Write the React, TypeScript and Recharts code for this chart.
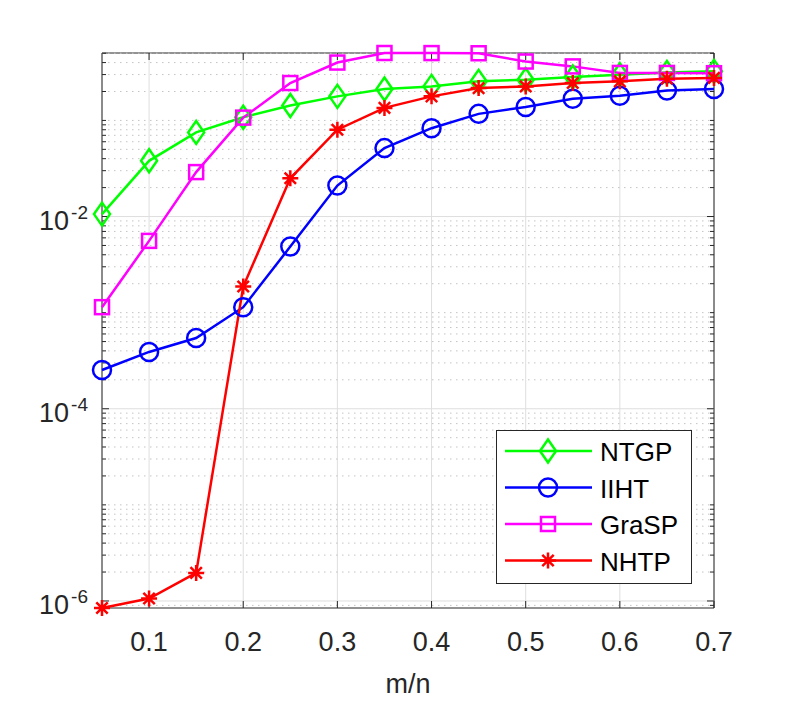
import React from "react";
import {
  LineChart,
  Line,
  XAxis,
  YAxis,
  CartesianGrid,
  ReferenceLine,
  ReferenceArea,
  Legend,
} from "recharts";

// sampling ratio m/n
const ratios = [0.05, 0.1, 0.15, 0.2, 0.25, 0.3, 0.35, 0.4, 0.45, 0.5, 0.55, 0.6, 0.65, 0.7];

const ntgp = [0.0106, 0.038, 0.075, 0.108, 0.143, 0.178, 0.212, 0.226, 0.255, 0.265, 0.283, 0.299, 0.315, 0.324];
const iiht = [2.53e-4, 3.9e-4, 5.45e-4, 1.14e-3, 4.87e-3, 0.021, 0.0515, 0.083, 0.117, 0.138, 0.168, 0.181, 0.205, 0.212];
const grasp = [1.14e-3, 5.58e-3, 0.029, 0.107, 0.245, 0.4, 0.503, 0.502, 0.5, 0.41, 0.365, 0.312, 0.312, 0.31];
const nhtp = [8.45e-7, 1.06e-6, 1.96e-6, 1.87e-3, 0.025, 0.08, 0.135, 0.178, 0.217, 0.226, 0.245, 0.255, 0.272, 0.277];

const xTicks = [0.1, 0.2, 0.3, 0.4, 0.5, 0.6, 0.7];
const yTicks = [1e-6, 1e-4, 1e-2];
const yTickExponents = ["-6", "-4", "-2"];
const minorDecades = [-7, -6, -5, -4, -3, -2, -1];
const minorMultipliers = [1, 2, 3, 4, 5, 6, 7, 8, 9];

const series = [
  { key: "NTGP", values: ntgp, color: "#00ff00", marker: "diamond" },
  { key: "IIHT", values: iiht, color: "#0000ff", marker: "circle" },
  { key: "GraSP", values: grasp, color: "#ff00ff", marker: "square" },
  { key: "NHTP", values: nhtp, color: "#ff0000", marker: "star" },
];

const data = ratios.map((m, i) => {
  const row: any = { m };
  series.forEach((s) => (row[s.key] = s.values[i]));
  return row;
});

// axis tight, like MATLAB
const allValues = series.flatMap((s) => s.values);
const yMin = Math.min(...allValues);
const yMax = Math.max(...allValues);

const minorValues = minorDecades
  .flatMap((d) => minorMultipliers.map((k) => k * Math.pow(10, d)))
  .filter((v) => v >= yMin && v <= yMax && !yTicks.some((t) => Math.abs(t - v) / t < 1e-9));

const FONT = "'Liberation Sans', Arial, Helvetica, sans-serif";
const AXIS = "#262626";
const LW = 2.5;

function Marker({ kind, x, y, color }: { kind: string; x: number; y: number; color: string }) {
  const common = { fill: "none", stroke: color, strokeWidth: LW };
  if (kind === "diamond")
    return <path d={`M${x},${y - 11.5}L${x + 8},${y}L${x},${y + 11.5}L${x - 8},${y}Z`} {...common} />;
  if (kind === "circle") return <circle cx={x} cy={y} r={9} {...common} />;
  if (kind === "square") return <rect x={x - 7} y={y - 7} width={14} height={14} {...common} />;
  const a = 8;
  const b = 5.7;
  return (
    <path
      d={`M${x - a},${y}H${x + a}M${x},${y - a}V${y + a}M${x - b},${y - b}L${x + b},${y + b}M${x - b},${y + b}L${x + b},${y - b}`}
      {...common}
    />
  );
}

const makeDot = (kind: string, color: string) => (props: any) => {
  const { cx, cy, index } = props;
  if (cx == null || cy == null) return <g key={`e-${index}`} />;
  return (
    <g key={`${kind}-${index}`}>
      <Marker kind={kind} x={cx} y={cy} color={color} />
    </g>
  );
};

const XTick = (props: any) => {
  const { x, y, payload } = props;
  return (
    <text x={x} y={y + 43} textAnchor="middle" fontSize={27} fill={AXIS} fontFamily={FONT}>
      {payload.value}
    </text>
  );
};

const YTick = (props: any) => {
  const { x, y, payload } = props;
  const idx = yTicks.findIndex((t) => Math.abs(t - payload.value) / t < 1e-6);
  return (
    <text x={x - 14} y={y + 13} textAnchor="end" fill={AXIS} fontFamily={FONT}>
      <tspan fontSize={27}>10</tspan>
      <tspan fontSize={19} dx={2} dy={-11}>
        {yTickExponents[idx]}
      </tspan>
    </text>
  );
};

const MinorLine = (props: any) => {
  const { x1, x2, y1 } = props;
  return (
    <g>
      <line x1={x1} x2={x2} y1={y1} y2={y1} stroke="#c4c4c4" strokeWidth={1} strokeDasharray="1.5 4.5" />
      <line x1={x1} x2={x1 + 4} y1={y1} y2={y1} stroke={AXIS} strokeWidth={1} />
      <line x1={x2 - 4} x2={x2} y1={y1} y2={y1} stroke={AXIS} strokeWidth={1} />
    </g>
  );
};

const MajorYLine = (props: any) => {
  const { x1, x2, y1 } = props;
  return (
    <g>
      <line x1={x1} x2={x2} y1={y1} y2={y1} stroke="#dedede" strokeWidth={1} />
      <line x1={x1} x2={x1 + 7} y1={y1} y2={y1} stroke={AXIS} strokeWidth={1} />
      <line x1={x2 - 7} x2={x2} y1={y1} y2={y1} stroke={AXIS} strokeWidth={1} />
    </g>
  );
};

const XTickMarks = (props: any) => {
  const { x1, y1, y2 } = props;
  const top = Math.min(y1, y2);
  const bottom = Math.max(y1, y2);
  return (
    <g>
      <line x1={x1} x2={x1} y1={top} y2={top + 7} stroke={AXIS} strokeWidth={1} />
      <line x1={x1} x2={x1} y1={bottom - 7} y2={bottom} stroke={AXIS} strokeWidth={1} />
    </g>
  );
};

const LegendBox = () => (
  <svg width={197} height={155} style={{ display: "block" }}>
    <rect x={0.5} y={0.5} width={195} height={153} fill="#fff" stroke={AXIS} strokeWidth={1} />
    {series.map((s, i) => {
      const cy = 21 + i * 36.5;
      return (
        <g key={s.key}>
          <line x1={9} x2={96} y1={cy} y2={cy} stroke={s.color} strokeWidth={LW} />
          <Marker kind={s.marker} x={52} y={cy} color={s.color} />
          <text x={104} y={cy + 10} fontSize={26} fill="#000" fontFamily={FONT}>
            {s.key}
          </text>
        </g>
      );
    })}
  </svg>
);

export default function App() {
  return (
    <div style={{ position: "absolute", left: 0, top: 0, width: 789, height: 703, background: "#fff" }}>
      <LineChart width={789} height={703} data={data} margin={{ top: 53, right: 75, bottom: 35, left: 22 }}>
        <CartesianGrid horizontal={false} vertical={true} stroke="#dedede" strokeDasharray="" />
        <XAxis
          dataKey="m"
          type="number"
          domain={[0.05, 0.7]}
          ticks={xTicks}
          height={60}
          tickSize={0}
          tickMargin={0}
          axisLine={false}
          tick={<XTick />}
          label={{
            content: (p: any) => {
              const vb = p.viewBox;
              return (
                <text x={vb.x + vb.width / 2} y={vb.y + 85} textAnchor="middle" fontSize={27} fill={AXIS} fontFamily={FONT}>
                  m/n
                </text>
              );
            },
          }}
        />
        <YAxis
          type="number"
          scale="log"
          domain={[yMin, yMax]}
          ticks={yTicks}
          width={80}
          tickSize={0}
          tickMargin={0}
          axisLine={false}
          tick={<YTick />}
        />
        {minorValues.map((v) => (
          <ReferenceLine key={`mn-${v}`} y={v} shape={<MinorLine />} />
        ))}
        {yTicks.map((v) => (
          <ReferenceLine key={`mj-${v}`} y={v} shape={<MajorYLine />} />
        ))}
        {xTicks.map((v) => (
          <ReferenceLine key={`xt-${v}`} x={v} shape={<XTickMarks />} />
        ))}
        <ReferenceArea x1={0.05} x2={0.7} y1={yMin} y2={yMax} fill="none" fillOpacity={0} stroke={AXIS} strokeWidth={1} />
        {series.map((s) => (
          <Line
            key={s.key}
            dataKey={s.key}
            name={s.key}
            type="linear"
            stroke={s.color}
            strokeWidth={LW}
            dot={makeDot(s.marker, s.color)}
            activeDot={false}
            isAnimationActive={false}
          />
        ))}
        <Legend
          layout="vertical"
          align="center"
          verticalAlign="middle"
          wrapperStyle={{ left: 496, top: 430, width: 197, height: 155, right: "auto", bottom: "auto" }}
          content={<LegendBox />}
        />
      </LineChart>
    </div>
  );
}
